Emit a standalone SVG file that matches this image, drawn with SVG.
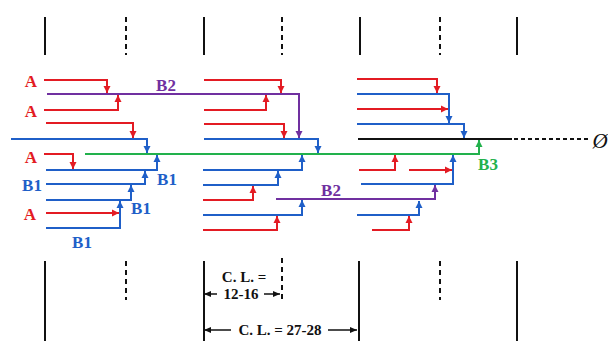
<svg xmlns="http://www.w3.org/2000/svg" width="608" height="341" viewBox="0 0 608 341">
<style>
.r{stroke:#e31b23;fill:none;stroke-width:2}
.b{stroke:#1f5fc8;fill:none;stroke-width:2}
.p{stroke:#7030a0;fill:none;stroke-width:2}
.g{stroke:#22b14c;fill:none;stroke-width:2}
.k{stroke:#111;fill:none;stroke-width:2}
.kd{stroke:#111;fill:none;stroke-width:2;stroke-dasharray:5 4}
.t{font-family:"Liberation Serif",serif;font-weight:bold;font-size:17px;text-anchor:middle}
.tr{fill:#e31b23}.tb{fill:#1f5fc8}.tp{fill:#7030a0}.tg{fill:#22b14c}.tk{fill:#111}
</style>
<defs>
<marker id="ar" markerUnits="userSpaceOnUse" markerWidth="8" markerHeight="8" refX="7" refY="4" orient="auto"><path d="M0,0.5 L7,4 L0,7.5 Z" fill="#e31b23"/></marker>
<marker id="ab" markerUnits="userSpaceOnUse" markerWidth="8" markerHeight="8" refX="7" refY="4" orient="auto"><path d="M0,0.5 L7,4 L0,7.5 Z" fill="#1f5fc8"/></marker>
<marker id="ap" markerUnits="userSpaceOnUse" markerWidth="8" markerHeight="8" refX="7" refY="4" orient="auto"><path d="M0,0.5 L7,4 L0,7.5 Z" fill="#7030a0"/></marker>
<marker id="ag" markerUnits="userSpaceOnUse" markerWidth="8" markerHeight="8" refX="7" refY="4" orient="auto"><path d="M0,0.5 L7,4 L0,7.5 Z" fill="#22b14c"/></marker>
<marker id="ak" markerUnits="userSpaceOnUse" markerWidth="8" markerHeight="8" refX="7" refY="4" orient="auto"><path d="M0,1 L7,4 L0,7 Z" fill="#111"/></marker>
</defs>
<g id="grid">
<path class="k" d="M45,17V55M204,17V55M360,17V55M517,17V55"/>
<path class="kd" d="M126,17V55M282,17V55M440,17V55"/>
<path class="k" d="M45,261V341M204,261V341M359,261V341M517,261V341"/>
<path class="kd" d="M126,261V300M282,258V300M440,261V300"/>
</g>
<g id="connectors">
<path class="r" marker-end="url(#ar)" d="M44,80H107V93"/>
<path class="p" marker-end="url(#ap)" d="M47,94H299V138"/>
<path class="r" marker-end="url(#ar)" d="M44,110H118V95"/>
<path class="r" marker-end="url(#ar)" d="M46,123H133V138"/>
<path class="b" marker-end="url(#ab)" d="M11,139H147V153"/>
<path class="g" marker-end="url(#ag)" d="M85,154H479V140"/>
<path class="r" marker-end="url(#ar)" d="M44,154H73V169"/>
<path class="b" marker-end="url(#ab)" d="M46,170H157V155"/>
<path class="b" marker-end="url(#ab)" d="M46,184H145V171"/>
<path class="b" marker-end="url(#ab)" d="M46,200H131V185"/>
<path class="r" marker-end="url(#ar)" d="M46,213H119"/>
<path class="b" marker-end="url(#ab)" d="M46,228H120V201"/>
<path class="r" marker-end="url(#ar)" d="M204,80H281V93"/>
<path class="r" marker-end="url(#ar)" d="M204,110H266V95"/>
<path class="r" marker-end="url(#ar)" d="M204,124H284V138"/>
<path class="b" marker-end="url(#ab)" d="M204,139H318V153"/>
<path class="b" marker-end="url(#ab)" d="M203,170H302V155"/>
<path class="b" marker-end="url(#ab)" d="M203,185H278V171"/>
<path class="r" marker-end="url(#ar)" d="M203,200H253V186"/>
<path class="p" marker-end="url(#ap)" d="M276,199H435V185"/>
<path class="b" marker-end="url(#ab)" d="M203,215H302V200"/>
<path class="r" marker-end="url(#ar)" d="M203,230H277V216"/>
<path class="r" marker-end="url(#ar)" d="M357,79H437V93"/>
<path class="b" marker-end="url(#ab)" d="M357,94H449V123"/>
<path class="r" marker-end="url(#ar)" d="M357,109H448"/>
<path class="b" marker-end="url(#ab)" d="M357,124H464V138"/>
<path class="k" d="M358,139H512"/>
<path class="k" stroke-dasharray="4 3" d="M514,139H590"/>
<path class="r" marker-end="url(#ar)" d="M359,170H395V155"/>
<path class="r" marker-end="url(#ar)" d="M409,170H452"/>
<path class="b" marker-end="url(#ab)" d="M361,184H453V155"/>
<path class="b" marker-end="url(#ab)" d="M357,215H419V201"/>
<path class="r" marker-end="url(#ar)" d="M372,230H409V216"/>
<path stroke="#111" stroke-width="1.5" marker-end="url(#ak)" d="M217,294H204"/>
<path stroke="#111" stroke-width="1.5" marker-end="url(#ak)" d="M264,294H280"/>
<path stroke="#111" stroke-width="1.5" marker-end="url(#ak)" d="M231,330H204"/>
<path stroke="#111" stroke-width="1.5" marker-end="url(#ak)" d="M328,330H357"/>
</g>
<g id="labels">
<text class="t tr" x="31" y="87">A</text>
<text class="t tr" x="31" y="117">A</text>
<text class="t tr" x="31" y="163">A</text>
<text class="t tr" x="30" y="220">A</text>
<text class="t tp" x="166" y="91">B2</text>
<text class="t tb" x="167" y="185">B1</text>
<text class="t tb" x="32" y="191">B1</text>
<text class="t tb" x="141" y="214">B1</text>
<text class="t tb" x="82" y="248">B1</text>
<text class="t tp" x="331" y="196">B2</text>
<text class="t tg" x="488" y="170">B3</text>
<text class="t tk" x="600" y="148" style="font-size:21px;font-style:italic;font-weight:normal">Ø</text>
<text class="t tk" x="244" y="282" style="font-size:15px">C. L. =</text>
<text class="t tk" x="241" y="299" style="font-size:15px">12-16</text>
<text class="t tk" x="280" y="335" style="font-size:15px">C. L. = 27-28</text>
</g>
</svg>
